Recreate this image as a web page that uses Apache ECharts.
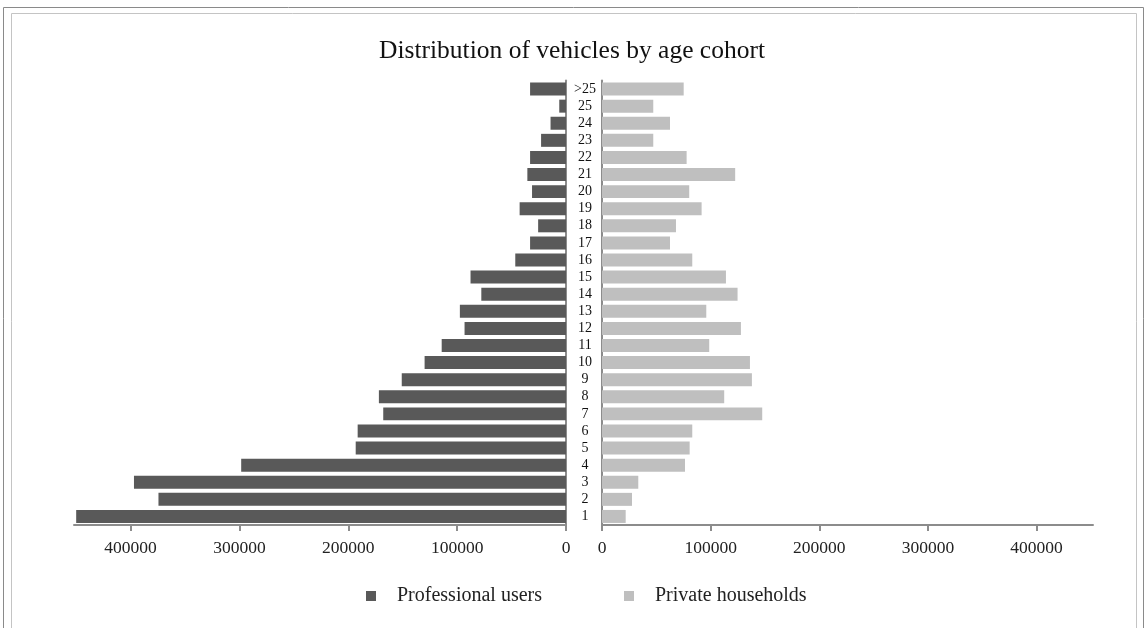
<!DOCTYPE html>
<html>
<head>
<meta charset="utf-8">
<script src="https://cdn.jsdelivr.net/npm/echarts@6/dist/echarts.min.js"></script>
<style>html,body{margin:0;padding:0;background:#fff;}#c{width:1144px;height:628px;}</style>
</head>
<body>
<div id="c"></div>
<script>
const categories = ['1','2','3','4','5','6','7','8','9','10','11','12','13','14','15','16','17','18','19','20','21','22','23','24','25','>25'];
const professionalUsers = [450000,374400,396900,298400,193200,191400,167900,171900,150900,129900,114200,93200,97500,77800,87700,46600,33000,25600,42600,31200,35500,33000,22900,14200,6200,33000];
const privateHouseholds = [21800,27600,33400,76400,80700,83100,147500,112500,138000,136200,98700,127900,96000,124800,114100,83100,62600,68100,91700,80300,122600,77900,47200,62600,47200,75200];
const tickValues = ['0','100000','200000','300000','400000'];

const chart = echarts.init(document.getElementById('c'));
const serif = 'Liberation Serif';
const axisColor = '#8c8c8c';
chart.setOption({
  backgroundColor: '#fff',
  animation: false,
  graphic: [
    {type:'rect', shape:{x:3.5,y:7.5,width:1140,height:640}, style:{fill:'none',stroke:'#8a8a8a',lineWidth:1}},
    {type:'rect', shape:{x:11.5,y:13.5,width:1125,height:640}, style:{fill:'none',stroke:'#c4c4c4',lineWidth:1}}
  ],
  title: {
    text: 'Distribution of vehicles by age cohort',
    left: 'center', top: 33,
    textStyle: {fontFamily: serif, fontSize: 25.5, fontWeight: 'normal', color: '#111'}
  },
  legend: {
    left: 361, top: 581, itemWidth: 10, itemHeight: 10, itemGap: 82,
    icon: 'rect',
    textStyle: {fontFamily: serif, fontSize: 20, color: '#222', padding: [0,0,0,16]},
    data: ['Professional users','Private households']
  },
  grid: [
    {left: 74, right: 1144-566, top: 80.5, bottom: 628-525},
    {left: 602, right: 1144-1093, top: 80.5, bottom: 628-525}
  ],
  xAxis: [
    {type:'value', gridIndex:0, inverse:true, min:0, max:452000, interval:100000,
     axisLine:{show:true, lineStyle:{color:axisColor, width:2}},
     axisTick:{show:true, length:6, lineStyle:{color:axisColor, width:2}},
     splitLine:{show:false},
     axisLabel:{fontFamily:serif, fontSize:17.5, color:'#222', margin:14, showMaxLabel:false,
       formatter: v => tickValues[Math.round(v/100000)] || ''}},
    {type:'value', gridIndex:1, min:0, max:452000, interval:100000,
     axisLine:{show:true, lineStyle:{color:axisColor, width:2}},
     axisTick:{show:true, length:6, lineStyle:{color:axisColor, width:2}},
     splitLine:{show:false},
     axisLabel:{fontFamily:serif, fontSize:17.5, color:'#222', margin:14, showMaxLabel:false,
       formatter: v => tickValues[Math.round(v/100000)] || ''}}
  ],
  yAxis: [
    {type:'category', gridIndex:0, position:'right', data:categories,
     axisLine:{show:true, lineStyle:{color:axisColor, width:2}},
     axisTick:{show:false}, axisLabel:{show:false}},
    {type:'category', gridIndex:1, position:'left', data:categories,
     axisLine:{show:true, lineStyle:{color:axisColor, width:2}},
     axisTick:{show:false},
     axisLabel:{show:true, interval:0, align:'center', margin:17, fontFamily:serif, fontSize:14, color:'#111'}}
  ],
  series: [
    {name:'Professional users', type:'bar', xAxisIndex:0, yAxisIndex:0, data:professionalUsers,
     barCategoryGap:'24%', itemStyle:{color:'#595959'}},
    {name:'Private households', type:'bar', xAxisIndex:1, yAxisIndex:1, data:privateHouseholds,
     barCategoryGap:'24%', itemStyle:{color:'#bfbfbf'}}
  ]
});
</script>
</body>
</html>
